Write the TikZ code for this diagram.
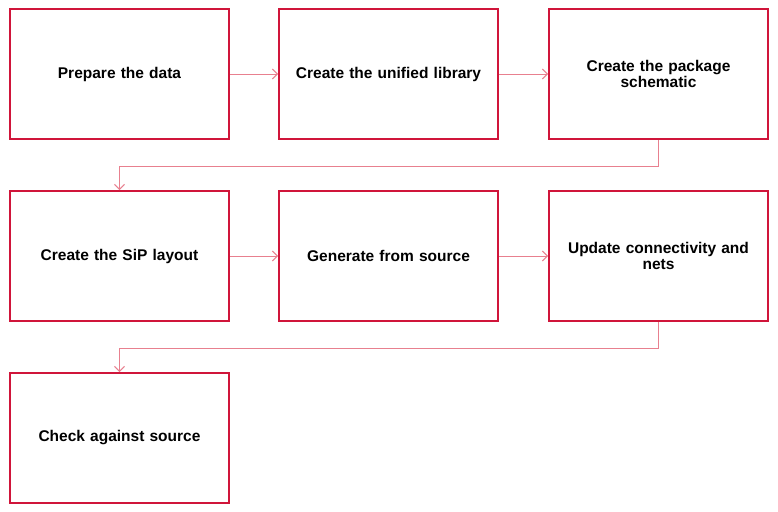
\documentclass[tikz,border=0pt]{standalone}
\usepackage{fontspec}
\setmainfont{Liberation Sans}
\usetikzlibrary{arrows.meta}
\definecolor{boxred}{HTML}{D0153A}
\definecolor{linkpink}{HTML}{E8808F}
\begin{document}
\begin{tikzpicture}[x=1pt,y=-1pt,
  stepbox/.style={draw=boxred,line width=2pt,minimum width=219pt,minimum height=130pt,
    text width=210pt,align=center,inner sep=0pt,font=\fontsize{15.5pt}{16pt}\selectfont\bfseries},
  link/.style={draw=linkpink,line width=1pt,-{Straight Barb[length=5pt,width=10pt,line width=1pt]}}]
\useasboundingbox[fill=white] (0,0) rectangle (778,511);
\node[stepbox] (a) at (119.5,74) {Prepare the data};
\node[stepbox] (b) at (388.5,74) {Create the unified library};
\node[stepbox] (c) at (658.5,74) {Create the package\\schematic};
\node[stepbox] (d) at (119.5,256) {Create the SiP layout};
\node[stepbox] (e) at (388.5,256) {Generate from source};
\node[stepbox] (f) at (658.5,256) {Update connectivity and\\nets};
\node[stepbox] (g) at (119.5,438) {Check against source};
\draw[link] (a) -- (b);
\draw[link] (b) -- (c);
\draw[link] (d) -- (e);
\draw[link] (e) -- (f);
\draw[link] (c.south) -- ++(0,26) -| (d.north);
\draw[link] (f.south) -- ++(0,26) -| (g.north);
\end{tikzpicture}
\end{document}
